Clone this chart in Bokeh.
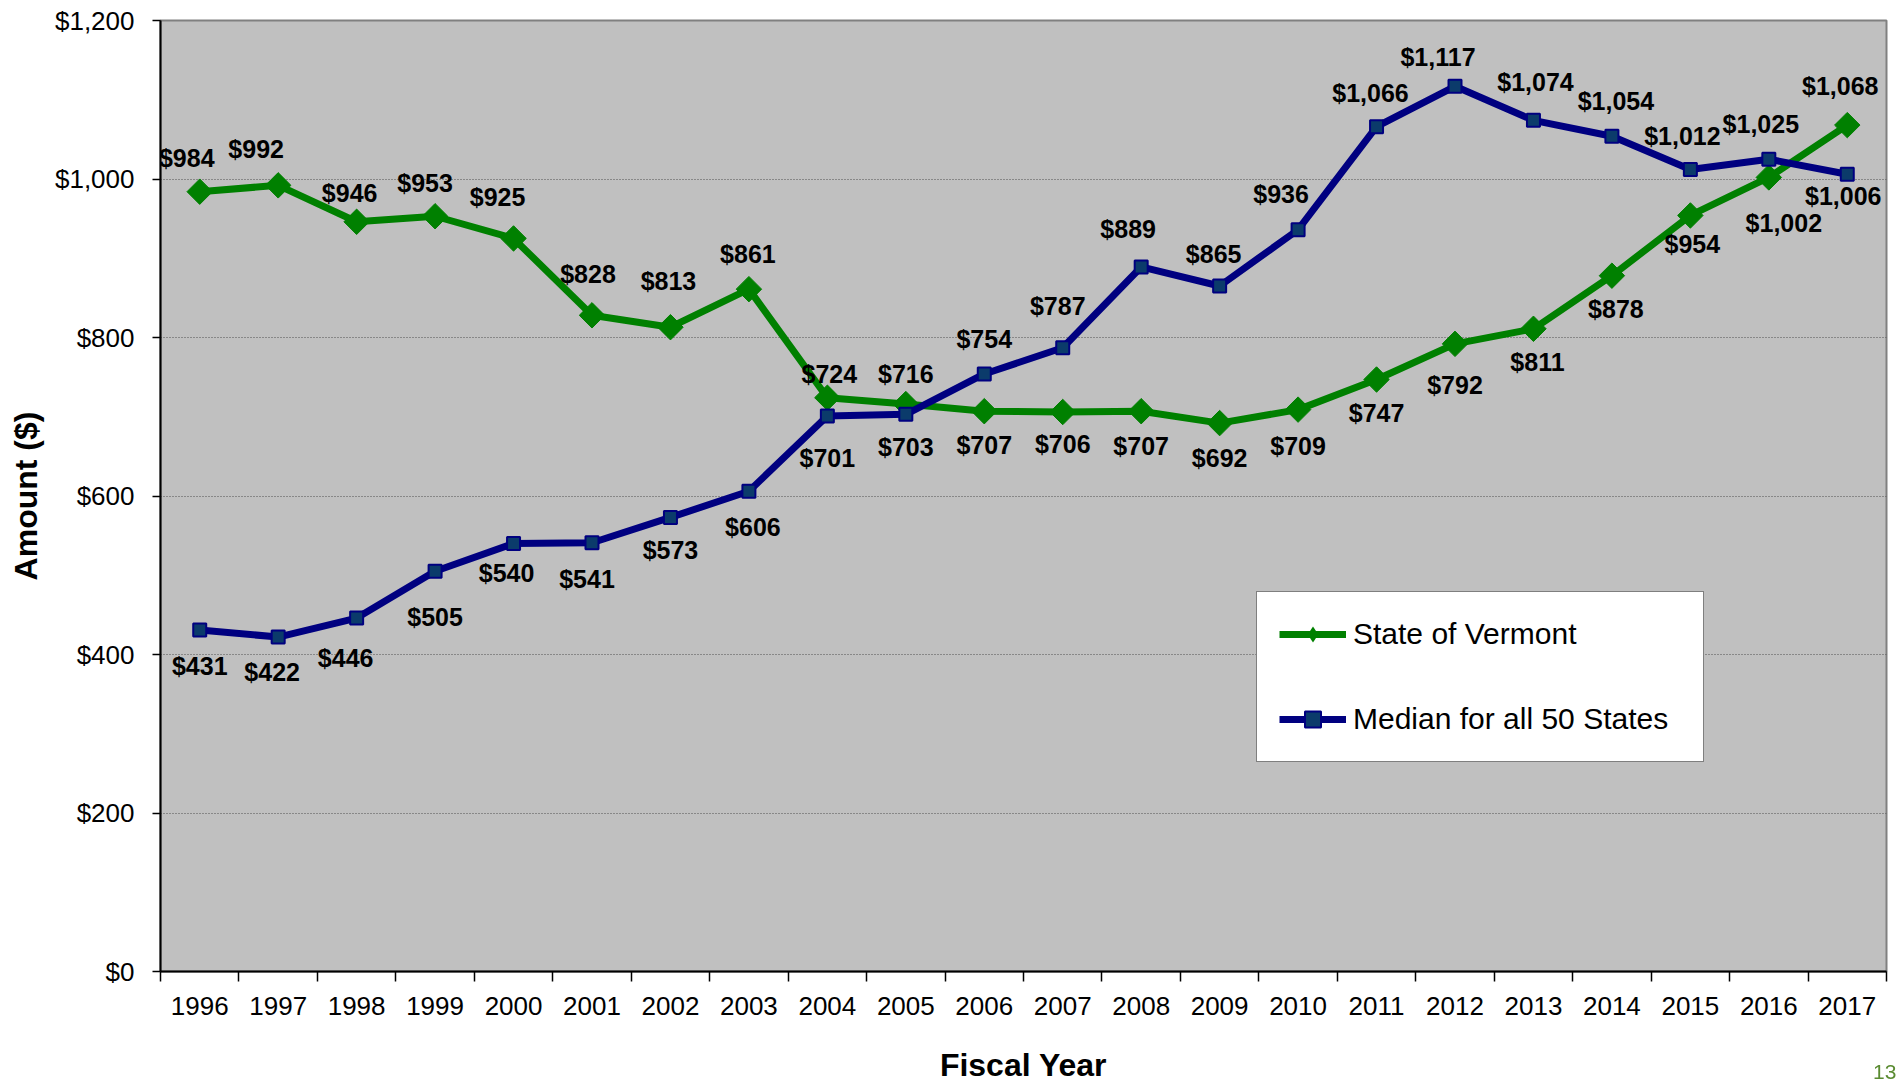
import math
from bokeh.plotting import figure
from bokeh.layouts import column
from bokeh.models import (ColumnDataSource, FixedTicker, NumeralTickFormatter,
                          Legend, LegendItem, Range1d, Div)
from bokeh.core.properties import value
from bokeh.embed import file_html
from bokeh.resources import INLINE

years = list(range(1996, 2018))
vermont = [984, 992, 946, 953, 925, 828, 813, 861, 724, 716, 707, 706, 707, 692,
           709, 747, 792, 811, 878, 954, 1002, 1068]
median50 = [431, 422, 446, 505, 540, 541, 573, 606, 701, 703, 754, 787, 889, 865,
            936, 1066, 1117, 1074, 1054, 1012, 1025, 1006]
page_number = "13"

# label offsets in pixels (screen, +y = down)
vt_dx = [-13, -22, -7, -10, -16, -4, -2, -1, 2, 0, 0, 0, 0, 0, 0, 0, 0, 4, 4, 2, 15, -7]
vt_dy = [-34, -36, -29, -33, -41, -41, -46, -35, -24, -30, 34, 32, 35, 35, 36, 33, 41, 33, 33, 29, 46, -39]
md_dx = [0, -6, -11, 0, -7, -5, 0, 4, 0, 0, 0, -5, -13, -6, -17, -6, -17, 2, 4, -8, -8, -4]
md_dy = [36, 35, 40, 46, 29, 36, 33, 36, 42, 33, -35, -42, -38, -32, -36, -34, -29, -38, -35, -33, -35, 22]

FONT = "Liberation Sans"

def fmt(v):
    return "${:,}".format(v)

src_vt = ColumnDataSource(dict(x=years, y=vermont, lab=[fmt(v) for v in vermont],
                               dx=vt_dx, dy=vt_dy))
src_md = ColumnDataSource(dict(x=years, y=median50, lab=[fmt(v) for v in median50],
                               dx=md_dx, dy=md_dy))

p = figure(width=1900, height=1085, output_backend="svg", toolbar_location=None,
           x_range=Range1d(1995.5, 2017.5), y_range=Range1d(0, 1200),
           min_border_left=160, min_border_right=14, min_border_top=20,
           min_border_bottom=113)
p.background_fill_color = "#C0C0C0"
p.border_fill_color = "white"
p.outline_line_color = "#808080"
p.outline_line_width = 2

# axes
p.xaxis.ticker = FixedTicker(ticks=years, minor_ticks=[y - 0.5 for y in years] + [2017.5])
p.xaxis.formatter = NumeralTickFormatter(format="0")
p.xaxis.major_tick_line_color = None
p.xaxis.major_tick_out = 0
p.xaxis.major_tick_in = 0
p.xaxis.minor_tick_line_color = "black"
p.xaxis.minor_tick_line_width = 1.5
p.xaxis.minor_tick_out = 10
p.xaxis.minor_tick_in = 0
p.xaxis.major_label_standoff = 15
p.xaxis.axis_label = "Fiscal Year"
p.xaxis.axis_label_standoff = 29

p.yaxis.ticker = FixedTicker(ticks=[0, 200, 400, 600, 800, 1000, 1200])
p.yaxis.formatter = NumeralTickFormatter(format="$0,0")
p.yaxis.major_tick_out = 8
p.yaxis.major_tick_in = 0
p.yaxis.minor_tick_line_color = None
p.yaxis.major_label_standoff = 18
p.yaxis.axis_label = "Amount ($)"
p.yaxis.axis_label_standoff = 8

for ax in (p.xaxis, p.yaxis):
    ax.axis_line_color = "black"
    ax.axis_line_width = 2
    ax.major_tick_line_width = 1.5
    ax.major_label_text_font = FONT
    ax.major_label_text_font_size = "26px"
    ax.major_label_text_color = "black"
    ax.axis_label_text_font = FONT
    ax.axis_label_text_font_size = "32px"
    ax.axis_label_text_font_style = "bold"
    ax.axis_label_text_color = "black"

p.xgrid.grid_line_color = None
p.ygrid.grid_line_color = "#505050"
p.ygrid.grid_line_width = 1
p.ygrid.grid_line_dash = "1 2"

# series
l1 = p.line("x", "y", source=src_vt, line_color="#008000", line_width=7)
m1 = p.scatter("x", "y", source=src_vt, marker="square", angle=math.pi / 4, size=18,
               fill_color="#008000", line_color="#008000")
l2 = p.line("x", "y", source=src_md, line_color="#000080", line_width=7)
m2 = p.scatter("x", "y", source=src_md, marker="square", size=13,
               fill_color="#0B3B6B", line_color="#000080", line_width=2)

# legend-only diamond glyph (zero size on the plot)
m1_leg = p.scatter("x", "y", source=src_vt, marker="diamond", size=0,
                   fill_color="#008000", line_color="#008000", line_width=0)

for src in (src_vt, src_md):
    p.text("x", "y", text="lab", source=src, x_offset="dx", y_offset="dy",
           text_font=value(FONT), text_font_size="25px", text_font_style="bold",
           text_color="black", text_align="center", text_baseline="middle")

legend = Legend(items=[LegendItem(label="State of Vermont", renderers=[l1, m1_leg]),
                       LegendItem(label="Median for all 50 States", renderers=[l2, m2])],
                location=(1096, 209), orientation="vertical",
                label_text_font=FONT, label_text_font_size="30px",
                label_text_color="black",
                glyph_width=67, glyph_height=40, label_height=40, label_width=328,
                label_standoff=7, spacing=45, padding=22, margin=0,
                border_line_color="black", border_line_width=1.5,
                background_fill_color="white", background_fill_alpha=1)
p.add_layout(legend)

page = Div(text=page_number,
           styles={"position": "fixed", "left": "1868px", "top": "1056px",
                   "color": "#5B8C32", "font-size": "21px",
                   "font-family": "Liberation Sans", "line-height": "1"})

open("out.html", "w").write(file_html(column(p, page), INLINE))
